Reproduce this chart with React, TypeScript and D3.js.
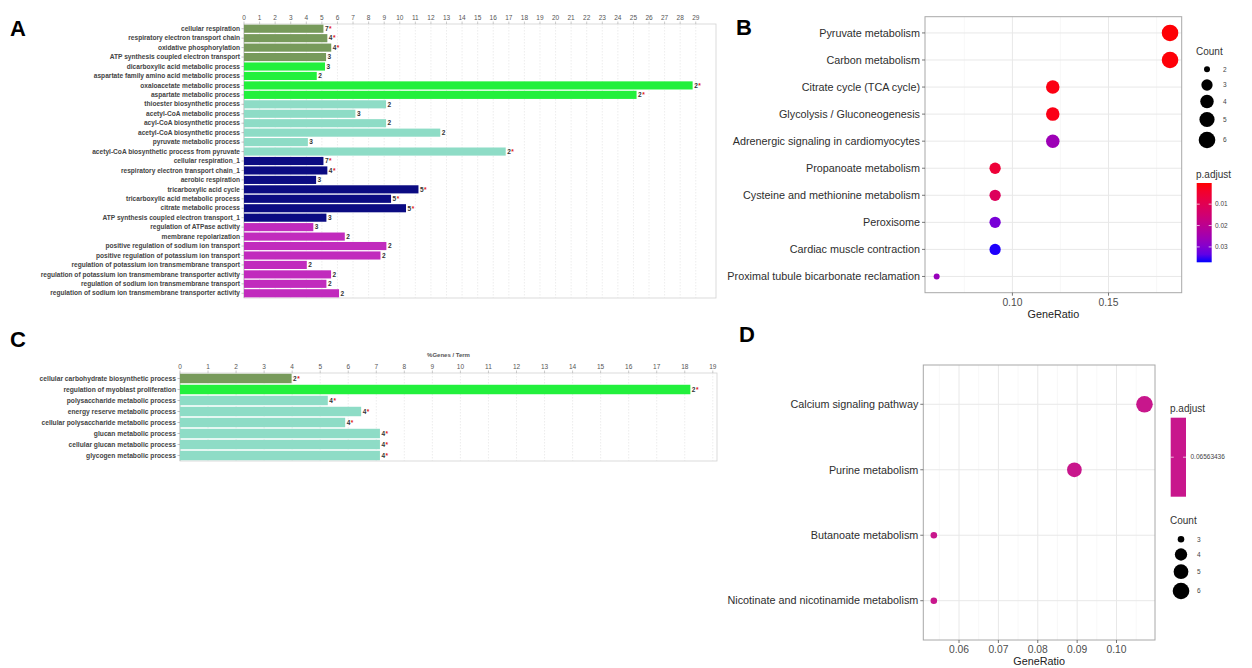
import React from "react";
import * as d3 from "d3";

const FONT = "'Liberation Sans', Arial, Helvetica, sans-serif";

// ---------- panel A : GO terms, % genes per term ----------
const termsA = [
  "cellular respiration",
  "respiratory electron transport chain",
  "oxidative phosphorylation",
  "ATP synthesis coupled electron transport",
  "dicarboxylic acid metabolic process",
  "aspartate family amino acid metabolic process",
  "oxaloacetate metabolic process",
  "aspartate metabolic process",
  "thioester biosynthetic process",
  "acetyl-CoA metabolic process",
  "acyl-CoA biosynthetic process",
  "acetyl-CoA biosynthetic process",
  "pyruvate metabolic process",
  "acetyl-CoA biosynthetic process from pyruvate",
  "cellular respiration_1",
  "respiratory electron transport chain_1",
  "aerobic respiration",
  "tricarboxylic acid cycle",
  "tricarboxylic acid metabolic process",
  "citrate metabolic process",
  "ATP synthesis coupled electron transport_1",
  "regulation of ATPase activity",
  "membrane repolarization",
  "positive regulation of sodium ion transport",
  "positive regulation of potassium ion transport",
  "regulation of potassium ion transmembrane transport",
  "regulation of potassium ion transmembrane transporter activity",
  "regulation of sodium ion transmembrane transport",
  "regulation of sodium ion transmembrane transporter activity",
];
const pctA = [5.1, 5.35, 5.6, 5.27, 5.2, 4.67, 28.8, 25.2, 9.12, 7.15, 9.12, 12.6, 4.1, 16.8,
  5.1, 5.35, 4.63, 11.2, 9.44, 10.4, 5.29, 4.45, 6.47, 9.14, 8.76, 4.03, 5.59, 5.29, 6.1];
const genesA = [7, 4, 4, 3, 3, 2, 2, 2, 2, 3, 2, 2, 3, 2, 7, 4, 3, 5, 5, 5, 3, 3, 2, 2, 2, 2, 2, 2, 2];
const starA = [1, 1, 1, 0, 0, 0, 1, 1, 0, 0, 0, 0, 0, 1, 1, 1, 0, 1, 1, 1, 0, 0, 0, 0, 0, 0, 0, 0, 0];
const groupA = [0, 0, 0, 0, 1, 1, 1, 1, 2, 2, 2, 2, 2, 2, 3, 3, 3, 3, 3, 3, 3, 4, 4, 4, 4, 4, 4, 4, 4];

// ---------- panel C ----------
const termsC = [
  "cellular carbohydrate biosynthetic process",
  "regulation of myoblast proliferation",
  "polysaccharide metabolic process",
  "energy reserve metabolic process",
  "cellular polysaccharide metabolic process",
  "glucan metabolic process",
  "cellular glucan metabolic process",
  "glycogen metabolic process",
];
const pctC = [3.98, 18.2, 5.27, 6.46, 5.89, 7.13, 7.13, 7.13];
const genesC = [2, 2, 4, 4, 4, 4, 4, 4];
const starC = [1, 1, 1, 1, 1, 1, 1, 1];
const groupC = [0, 1, 2, 2, 2, 2, 2, 2];

const groupColors = ["#779a5b", "#22f03c", "#8edcc6", "#0b0b82", "#c12bbd"];

// ---------- panel B : KEGG dot plot ----------
const keggB = [
  "Pyruvate metabolism",
  "Carbon metabolism",
  "Citrate cycle (TCA cycle)",
  "Glycolysis / Gluconeogenesis",
  "Adrenergic signaling in cardiomyocytes",
  "Propanoate metabolism",
  "Cysteine and methionine metabolism",
  "Peroxisome",
  "Cardiac muscle contraction",
  "Proximal tubule bicarbonate reclamation",
];
const ratioB = [0.182, 0.182, 0.121, 0.121, 0.121, 0.091, 0.091, 0.091, 0.091, 0.0606];
const countB = [6, 6, 4, 4, 4, 3, 3, 3, 3, 2];
const padjB = [0.0004, 0.0006, 0.0012, 0.0016, 0.026, 0.0058, 0.0112, 0.0312, 0.0368, 0.0268];
const padjTicksB = [0.01, 0.02, 0.03];

// ---------- panel D ----------
const keggD = [
  "Calcium signaling pathway",
  "Purine metabolism",
  "Butanoate metabolism",
  "Nicotinate and nicotinamide metabolism",
];
const ratioD = [0.1071, 0.0893, 0.0536, 0.0536];
const countD = [6, 5, 3, 3];
const padjD = "0.06563436";

type BarProps = {
  terms: string[]; pct: number[]; genes: number[]; star: number[]; group: number[];
  x0: number; x1: number; y0: number; y1: number; maxTick: number; domainMax: number;
  labelSize: number; title?: string;
};

function GoBars({ terms, pct, genes, star, group, x0, x1, y0, y1, maxTick, domainMax, labelSize, title }: BarProps) {
  const x = d3.scaleLinear().domain([0, domainMax]).range([x0, x1]);
  const y = d3.scaleBand<number>().domain(d3.range(terms.length)).range([y0, y1])
    .paddingInner(0.14).paddingOuter(0.07);
  const ticks = d3.range(0, maxTick + 1);
  return (
    <g fontFamily={FONT}>
      <rect x={x0} y={y0} width={x1 - x0} height={y1 - y0} fill="#fff" stroke="#d2d2d2" strokeWidth={0.8} />
      {ticks.map((t) => (
        <g key={t}>
          {t > 0 && <line x1={x(t)} x2={x(t)} y1={y0} y2={y1} stroke="#e0e0e0" strokeWidth={0.6} strokeDasharray="1.5,1.5" />}
          <line x1={x(t)} x2={x(t)} y1={y0 - 2.5} y2={y0} stroke="#aaa" strokeWidth={0.6} />
          <text x={x(t)} y={y0 - 4} textAnchor="middle" fontSize={6.5} fill="#555">{t}</text>
        </g>
      ))}
      {title && (
        <text x={(x0 + x1) / 2} y={y0 - 16} textAnchor="middle" fontSize={6} fontWeight="bold" fill="#555">{title}</text>
      )}
      <line x1={x0} x2={x0} y1={y0} y2={y1} stroke="#bbb" strokeWidth={0.7} />
      {terms.map((t, i) => {
        const yc = (y(i) as number) + y.bandwidth() / 2;
        return (
          <g key={i}>
            <line x1={x0 - 2.5} x2={x0} y1={yc} y2={yc} stroke="#999" strokeWidth={0.6} />
            <text x={x0 - 4} y={yc} dy="0.33em" textAnchor="end" fontSize={labelSize} fontWeight="bold" fill="#444">{t}</text>
            <rect x={x0} y={y(i)} width={x(pct[i]) - x0} height={y.bandwidth()} fill={groupColors[group[i]]} />
            <text x={x(pct[i]) + 1.5} y={yc} dy="0.35em" fontSize={6.5} fontWeight="bold" fill="#333">
              {genes[i]}
              {star[i] ? <tspan fill="#e01818" dx={0.5}>*</tspan> : null}
            </text>
          </g>
        );
      })}
    </g>
  );
}

type DotProps = {
  terms: string[]; ratio: number[]; count: number[]; colour: (i: number) => string;
  left: number; right: number; top: number; bottom: number;
  xMajor: number[]; xMinor: number[]; fmt: (v: number) => string;
  rMin: number; rMax: number; cMin: number; cMax: number;
};

function DotPlot({ terms, ratio, count, colour, left, right, top, bottom, xMajor, xMinor, fmt, rMin, rMax, cMin, cMax }: DotProps) {
  const [lo, hi] = d3.extent(ratio) as [number, number];
  const pad = (hi - lo) * 0.05;
  const x = d3.scaleLinear().domain([lo - pad, hi + pad]).range([left, right]);
  const y = d3.scalePoint<string>().domain(terms).range([top, bottom]).padding(0.6);
  const norm = d3.scaleLinear().domain([cMin, cMax]).range([0, 1]);
  const r = (c: number) => rMin + Math.sqrt(norm(c)) * (rMax - rMin);
  return (
    <g fontFamily={FONT}>
      <rect x={left} y={top} width={right - left} height={bottom - top} fill="#fff" />
      {xMinor.map((v) => (
        <line key={"m" + v} x1={x(v)} x2={x(v)} y1={top} y2={bottom} stroke="#f3f3f3" strokeWidth={0.6} />
      ))}
      {xMajor.map((v) => (
        <line key={"M" + v} x1={x(v)} x2={x(v)} y1={top} y2={bottom} stroke="#e8e8e8" strokeWidth={1} />
      ))}
      {terms.map((t) => (
        <line key={"h" + t} x1={left} x2={right} y1={y(t)} y2={y(t)} stroke="#e8e8e8" strokeWidth={1} />
      ))}
      <rect x={left} y={top} width={right - left} height={bottom - top} fill="none" stroke="#a8a8a8" strokeWidth={1} />
      {terms.map((t) => (
        <g key={"l" + t}>
          <line x1={left - 3} x2={left} y1={y(t)} y2={y(t)} stroke="#555" strokeWidth={0.8} />
          <text x={left - 5} y={y(t)} dy="0.35em" textAnchor="end" fontSize={10.8} fill="#2e2e2e">{t}</text>
        </g>
      ))}
      {xMajor.map((v) => (
        <g key={"t" + v}>
          <line x1={x(v)} x2={x(v)} y1={bottom} y2={bottom + 3} stroke="#555" strokeWidth={0.8} />
          <text x={x(v)} y={bottom + 13} textAnchor="middle" fontSize={10.3} fill="#4d4d4d">{fmt(v)}</text>
        </g>
      ))}
      <text x={(left + right) / 2} y={bottom + 25} textAnchor="middle" fontSize={10.8} fill="#222">GeneRatio</text>
      {terms.map((t, i) => (
        <circle key={"c" + t} cx={x(ratio[i])} cy={y(t)} r={r(count[i])} fill={colour(i)} />
      ))}
    </g>
  );
}

function SizeLegend({ x, titleY, items, ys, rMin, rMax, cMin, cMax }:
  { x: number; titleY: number; items: number[]; ys: number[]; rMin: number; rMax: number; cMin: number; cMax: number }) {
  const norm = d3.scaleLinear().domain([cMin, cMax]).range([0, 1]);
  const r = (c: number) => rMin + Math.sqrt(norm(c)) * (rMax - rMin);
  return (
    <g fontFamily={FONT}>
      <text x={x} y={titleY} fontSize={10} fill="#333">Count</text>
      {items.map((c, i) => (
        <g key={c}>
          <circle cx={x + 11} cy={ys[i]} r={r(c)} fill="#000" />
          <text x={x + 27} y={ys[i]} dy="0.35em" fontSize={6.5} fill="#444">{c}</text>
        </g>
      ))}
    </g>
  );
}

export default function App() {
  const pLo = 0.0001, pHi = 0.0372;
  const colB = d3.scaleLinear<string>().domain([pLo, pHi]).range(["#ff0000", "#0000ff"]).interpolate(d3.interpolateLab);
  const barTop = 183, barBot = 262.3;
  const pY = d3.scaleLinear().domain([pLo, pHi]).range([barTop, barBot]);
  const stops = d3.range(0, 1.0001, 0.1);

  return (
    <svg width={1252} height={668} style={{ position: "absolute", left: 0, top: 0 }}>
      <defs>
        <linearGradient id="padjB" x1="0" y1="0" x2="0" y2="1">
          {stops.map((s) => (
            <stop key={s} offset={s} stopColor={colB(pLo + s * (pHi - pLo))} />
          ))}
        </linearGradient>
      </defs>
      <rect width={1252} height={668} fill="#fff" />

      {/* panel letters */}
      <g fontFamily={FONT} fontWeight="bold" fontSize={22} fill="#000">
        <text x={10} y={36}>A</text>
        <text x={736} y={35}>B</text>
        <text x={10} y={347}>C</text>
        <text x={739} y={342}>D</text>
      </g>

      <GoBars terms={termsA} pct={pctA} genes={genesA} star={starA} group={groupA}
        x0={244} x1={716} y0={24} y1={298} maxTick={29} domainMax={30.3} labelSize={6.6} />

      <GoBars terms={termsC} pct={pctC} genes={genesC} star={starC} group={groupC}
        x0={180} x1={717} y0={373} y1={461} maxTick={19} domainMax={19.15} labelSize={6.7} title="%Genes / Term" />

      <DotPlot terms={keggB} ratio={ratioB} count={countB} colour={(i) => colB(padjB[i])}
        left={925} right={1181.7} top={16.7} bottom={292.7}
        xMajor={[0.10, 0.15]} xMinor={[0.075, 0.125, 0.175]} fmt={d3.format(".2f")}
        rMin={3} rMax={8.3} cMin={2} cMax={6} />
      <SizeLegend x={1196} titleY={55} items={[2, 3, 4, 5, 6]} ys={[69.3, 85, 101.5, 119.5, 140]}
        rMin={3} rMax={8.3} cMin={2} cMax={6} />
      <g fontFamily={FONT}>
        <text x={1196} y={178} fontSize={10} fill="#333">p.adjust</text>
        <rect x={1196.7} y={barTop} width={15} height={barBot - barTop} fill="url(#padjB)" />
        {padjTicksB.map((t) => (
          <g key={t}>
            <line x1={1196.7} x2={1199.7} y1={pY(t)} y2={pY(t)} stroke="#fff" strokeWidth={0.7} />
            <line x1={1208.7} x2={1211.7} y1={pY(t)} y2={pY(t)} stroke="#fff" strokeWidth={0.7} />
            <text x={1215} y={pY(t)} dy="0.35em" fontSize={6.5} fill="#444">{d3.format(".2f")(t)}</text>
          </g>
        ))}
      </g>

      <DotPlot terms={keggD} ratio={ratioD} count={countD} colour={() => "#c8168c"}
        left={923.3} right={1155} top={365} bottom={640}
        xMajor={[0.06, 0.07, 0.08, 0.09, 0.10]} xMinor={[0.055, 0.065, 0.075, 0.085, 0.095, 0.105]}
        fmt={d3.format(".2f")} rMin={3.3} rMax={8.3} cMin={3} cMax={6} />
      <g fontFamily={FONT}>
        <text x={1170} y={411.5} fontSize={10} fill="#333">p.adjust</text>
        <rect x={1170.7} y={417.7} width={15.3} height={79} fill="#c8168c" />
        <line x1={1170.7} x2={1173.7} y1={457.2} y2={457.2} stroke="#fff" strokeWidth={0.7} />
        <line x1={1183} x2={1186} y1={457.2} y2={457.2} stroke="#fff" strokeWidth={0.7} />
        <text x={1190.5} y={457.2} dy="0.35em" fontSize={6.5} fill="#444">{padjD}</text>
      </g>
      <SizeLegend x={1170} titleY={524} items={[3, 4, 5, 6]} ys={[539.3, 554.5, 571.7, 591]}
        rMin={3.3} rMax={8.3} cMin={3} cMax={6} />
    </svg>
  );
}
